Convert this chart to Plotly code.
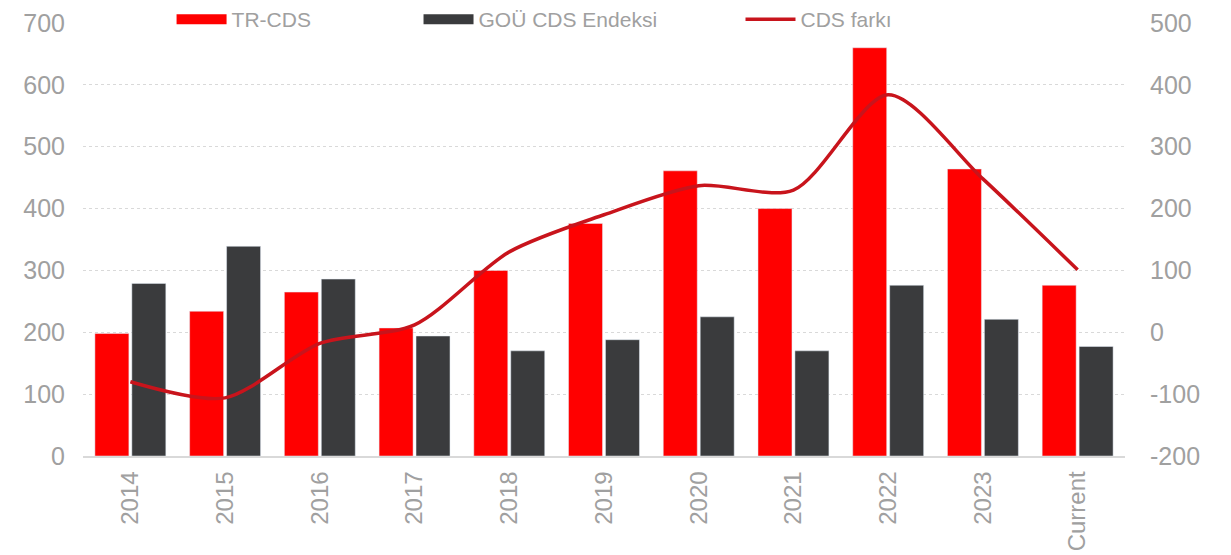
import plotly.graph_objects as go

years = ['2014', '2015', '2016', '2017', '2018', '2019', '2020', '2021', '2022', '2023', 'Current']
tr_cds = [198, 234, 265, 207, 300, 376, 461, 400, 660, 464, 276]
gou_cds = [279, 339, 286, 194, 170, 188, 225, 170, 276, 221, 177]
cds_fark = [-80, -106, -18, 12, 130, 190, 237, 230, 384, 248, 101]

y2_ticks = [-200, -100, 0, 100, 200, 300, 400, 500]
y2_labels = ['-200', '-100', '0', '100', '200', '300', '400', '500']

red = '#FF0000'
dark = '#3A3B3D'
line_red = '#C8141C'
grey_txt = '#A0A0A0'
font = 'Arial, Liberation Sans, sans-serif'

fig = go.Figure()
fig.add_trace(go.Bar(x=years, y=tr_cds, name='TR-CDS', marker_color=red, showlegend=False))
fig.add_trace(go.Bar(x=years, y=gou_cds, name='GOÜ CDS Endeksi', marker_color=dark, showlegend=False))
fig.add_trace(go.Scatter(x=years, y=cds_fark, name='CDS farkı', mode='lines', yaxis='y2',
                         line=dict(color=line_red, width=3.5, shape='spline', smoothing=0.8),
                         showlegend=False))

# legend entries (wide swatches like the original)
fig.add_trace(go.Scatter(x=[None], y=[None], mode='lines', name='TR-CDS',
                         line=dict(color=red, width=10), legend='legend'))
fig.add_trace(go.Scatter(x=[None], y=[None], mode='lines', name='GOÜ CDS Endeksi',
                         line=dict(color=dark, width=10), legend='legend2'))
fig.add_trace(go.Scatter(x=[None], y=[None], mode='lines', name='CDS farkı',
                         line=dict(color=line_red, width=3.5), legend='legend3'))

leg = dict(orientation='h', yref='container', yanchor='middle', y=0.979, xanchor='left',
           itemwidth=50,
           font=dict(family=font, size=21, color=grey_txt), bgcolor='rgba(0,0,0,0)')

tick_font = dict(family=font, size=25, color=grey_txt)

# page body adds an 8px offset, so the figure is sized to the visible area
fig.update_layout(
    width=1223, height=547,
    margin=dict(l=75, r=106, t=15, b=99, autoexpand=False),
    plot_bgcolor='white', paper_bgcolor='white',
    font=dict(family=font, size=21, color=grey_txt),
    barmode='group', bargap=0.22, bargroupgap=0.08,
    xaxis=dict(tickangle=-90, showgrid=False, showline=True, linecolor='#D9D9D9', linewidth=1.5,
               ticks='', tickfont=dict(tick_font, size=24), automargin=False, ticklabelstandoff=4),
    yaxis=dict(range=[0, 700], dtick=100, showgrid=True, gridcolor='#D9D9D9', griddash='dot',
               zeroline=False, ticks='', tickfont=tick_font, automargin=False,
               ticklabelstandoff=17, ticklabeloverflow='allow'),
    yaxis2=dict(range=[-200, 500], tickvals=y2_ticks, ticktext=y2_labels, overlaying='y',
                side='right', showgrid=False, zeroline=False, ticks='', tickfont=tick_font,
                automargin=False, ticklabelstandoff=24, ticklabeloverflow='allow'),
    legend=dict(leg, x=0.085),
    legend2=dict(leg, x=0.322),
    legend3=dict(leg, x=0.631),
)

fig.write_html("out.html")
